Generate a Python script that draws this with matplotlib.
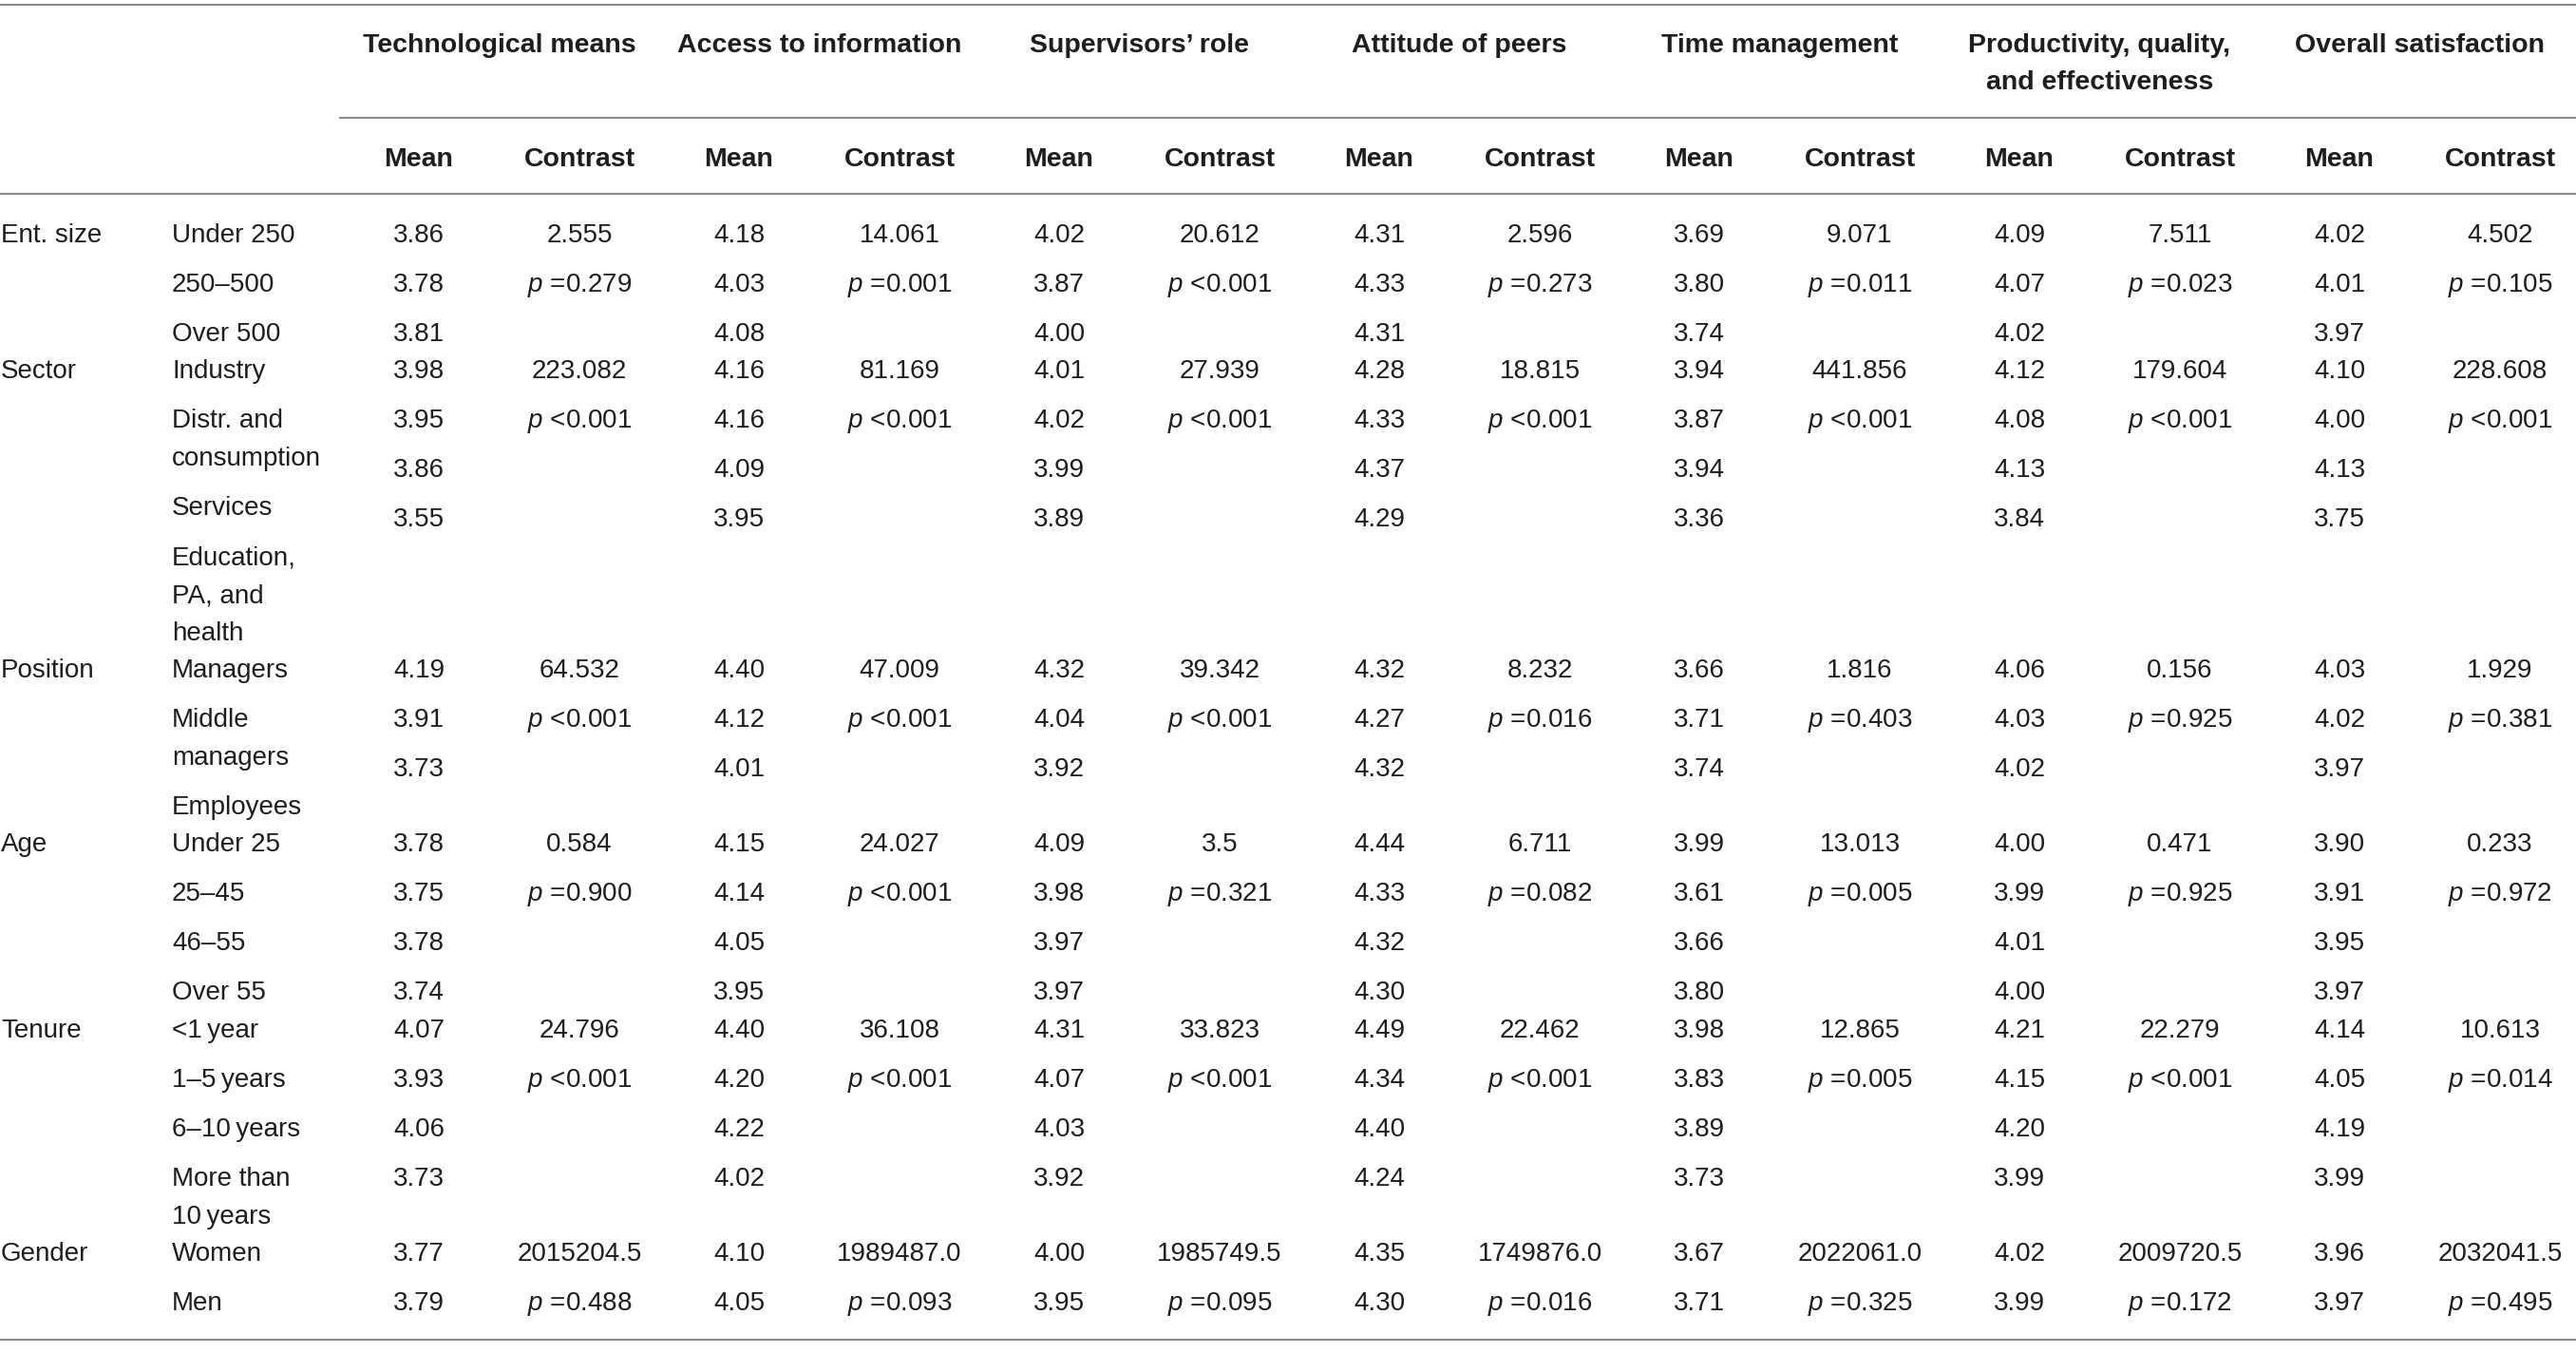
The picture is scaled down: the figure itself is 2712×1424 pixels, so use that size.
import matplotlib
matplotlib.use("Agg")
import matplotlib.pyplot as plt

# ── データ ────────────────────────────────────────────────────────────────

dimensions = [
    "Technological means",
    "Access to information",
    "Supervisors’ role",
    "Attitude of peers",
    "Time management",
    "Productivity, quality,\nand effectiveness",
    "Overall satisfaction",
]
sub_headers = ["Mean", "Contrast"]

groups = ["Ent. size", "Sector", "Position", "Age", "Tenure", "Gender"]

levels = [
    ["Under 250", "250–500", "Over 500"],
    ["Industry", "Distr. and\nconsumption", "Services", "Education,\nPA, and\nhealth"],
    ["Managers", "Middle\nmanagers", "Employees"],
    ["Under 25", "25–45", "46–55", "Over 55"],
    ["<1\u2009year", "1–5\u2009years", "6–10\u2009years", "More than\n10\u2009years"],
    ["Women", "Men"],
]

# 平均値：行 = 水準、列 = 次元
means_ent = [
    [3.86, 4.18, 4.02, 4.31, 3.69, 4.09, 4.02],
    [3.78, 4.03, 3.87, 4.33, 3.80, 4.07, 4.01],
    [3.81, 4.08, 4.00, 4.31, 3.74, 4.02, 3.97],
]
means_sector = [
    [3.98, 4.16, 4.01, 4.28, 3.94, 4.12, 4.10],
    [3.95, 4.16, 4.02, 4.33, 3.87, 4.08, 4.00],
    [3.86, 4.09, 3.99, 4.37, 3.94, 4.13, 4.13],
    [3.55, 3.95, 3.89, 4.29, 3.36, 3.84, 3.75],
]
means_position = [
    [4.19, 4.40, 4.32, 4.32, 3.66, 4.06, 4.03],
    [3.91, 4.12, 4.04, 4.27, 3.71, 4.03, 4.02],
    [3.73, 4.01, 3.92, 4.32, 3.74, 4.02, 3.97],
]
means_age = [
    [3.78, 4.15, 4.09, 4.44, 3.99, 4.00, 3.90],
    [3.75, 4.14, 3.98, 4.33, 3.61, 3.99, 3.91],
    [3.78, 4.05, 3.97, 4.32, 3.66, 4.01, 3.95],
    [3.74, 3.95, 3.97, 4.30, 3.80, 4.00, 3.97],
]
means_tenure = [
    [4.07, 4.40, 4.31, 4.49, 3.98, 4.21, 4.14],
    [3.93, 4.20, 4.07, 4.34, 3.83, 4.15, 4.05],
    [4.06, 4.22, 4.03, 4.40, 3.89, 4.20, 4.19],
    [3.73, 4.02, 3.92, 4.24, 3.73, 3.99, 3.99],
]
means_gender = [
    [3.77, 4.10, 4.00, 4.35, 3.67, 4.02, 3.96],
    [3.79, 4.05, 3.95, 4.30, 3.71, 3.99, 3.97],
]
means = [means_ent, means_sector, means_position, means_age, means_tenure, means_gender]

# 検定統計量（表示どおりの文字列）
stat_ent = ["2.555", "14.061", "20.612", "2.596", "9.071", "7.511", "4.502"]
stat_sector = ["223.082", "81.169", "27.939", "18.815", "441.856", "179.604", "228.608"]
stat_position = ["64.532", "47.009", "39.342", "8.232", "1.816", "0.156", "1.929"]
stat_age = ["0.584", "24.027", "3.5", "6.711", "13.013", "0.471", "0.233"]
stat_tenure = ["24.796", "36.108", "33.823", "22.462", "12.865", "22.279", "10.613"]
stat_gender = ["2015204.5", "1989487.0", "1985749.5", "1749876.0", "2022061.0", "2009720.5", "2032041.5"]
stats = [stat_ent, stat_sector, stat_position, stat_age, stat_tenure, stat_gender]

p_ent = ["=0.279", "=0.001", "<0.001", "=0.273", "=0.011", "=0.023", "=0.105"]
p_sector = ["<0.001"] * 7
p_position = ["<0.001", "<0.001", "<0.001", "=0.016", "=0.403", "=0.925", "=0.381"]
p_age = ["=0.900", "<0.001", "=0.321", "=0.082", "=0.005", "=0.925", "=0.972"]
p_tenure = ["<0.001", "<0.001", "<0.001", "<0.001", "=0.005", "<0.001", "=0.014"]
p_gender = ["=0.488", "=0.093", "=0.095", "=0.016", "=0.325", "=0.172", "=0.495"]
pvals = [p_ent, p_sector, p_position, p_age, p_tenure, p_gender]

# ── レイアウト（ピクセル単位） ──────────────────────────────────────────────

W, H = 2712, 1424
FONT = ["Liberation Sans", "DejaVu Sans"]
COLOR = "#1e1e1e"
LINE_COLOR = "#8a8a8a"
BODY_SIZE = 20
HEAD_SIZE = 20.5
BASE = 9.8          # 文字中心からベースラインまで

X_GROUP = 1
X_LEVEL = 181
X_MEAN0 = 441
X_CONTRAST0 = 610
COL_STEP = 337

FIRST_Y = 245
PARA = 52.0         # 段落間隔
LINE = 40.0         # 折り返し行間隔
GAP = 39.2          # グループ間隔

plt.rcParams["mathtext.fontset"] = "custom"
plt.rcParams["mathtext.rm"] = "Liberation Sans"
plt.rcParams["mathtext.it"] = "Liberation Sans:italic"

fig = plt.figure(figsize=(W / 100, H / 100), dpi=100)
ax = fig.add_axes([0, 0, 1, 1])
ax.set_xlim(0, W)
ax.set_ylim(H, 0)
ax.axis("off")


def put(x, y, s, ha="center", bold=False):
    ax.text(x, y + BASE, s, ha=ha, va="baseline",
            fontsize=HEAD_SIZE if bold else BODY_SIZE,
            fontweight="bold" if bold else "normal",
            family=FONT, color=COLOR)


# 罫線
for y, x0 in [(5, 0), (124, 357), (204, 0), (1410, 0)]:
    ax.plot([x0, W], [y, y], color=LINE_COLOR, linewidth=1.5,
            solid_capstyle="butt")

# 見出し
for k, dim in enumerate(dimensions):
    xc = (X_MEAN0 + X_CONTRAST0) / 2 + COL_STEP * k
    for j, line in enumerate(dim.split("\n")):
        put(xc, 45 + 39.5 * j, line, bold=True)
    put(X_MEAN0 + COL_STEP * k, 165, sub_headers[0], bold=True)
    put(X_CONTRAST0 + COL_STEP * k, 165, sub_headers[1], bold=True)

# 本体
y = FIRST_Y
for g, name in enumerate(groups):
    start = y
    put(X_GROUP, start, name, ha="left")
    yl = start
    for i, lab in enumerate(levels[g]):
        if i > 0:
            yl += PARA
        for j, line in enumerate(lab.split("\n")):
            if j > 0:
                yl += LINE
            put(X_LEVEL, yl, line, ha="left")
        yv = start + PARA * i
        for k in range(len(dimensions)):
            put(X_MEAN0 + COL_STEP * k, yv, f"{means[g][i][k]:.2f}")
    for k in range(len(dimensions)):
        xc = X_CONTRAST0 + COL_STEP * k
        put(xc, start, stats[g][k])
        put(xc, start + PARA, r"$p$ " + pvals[g][k])
    y = yl + GAP

fig.savefig("out.png", dpi=100, facecolor="white")
